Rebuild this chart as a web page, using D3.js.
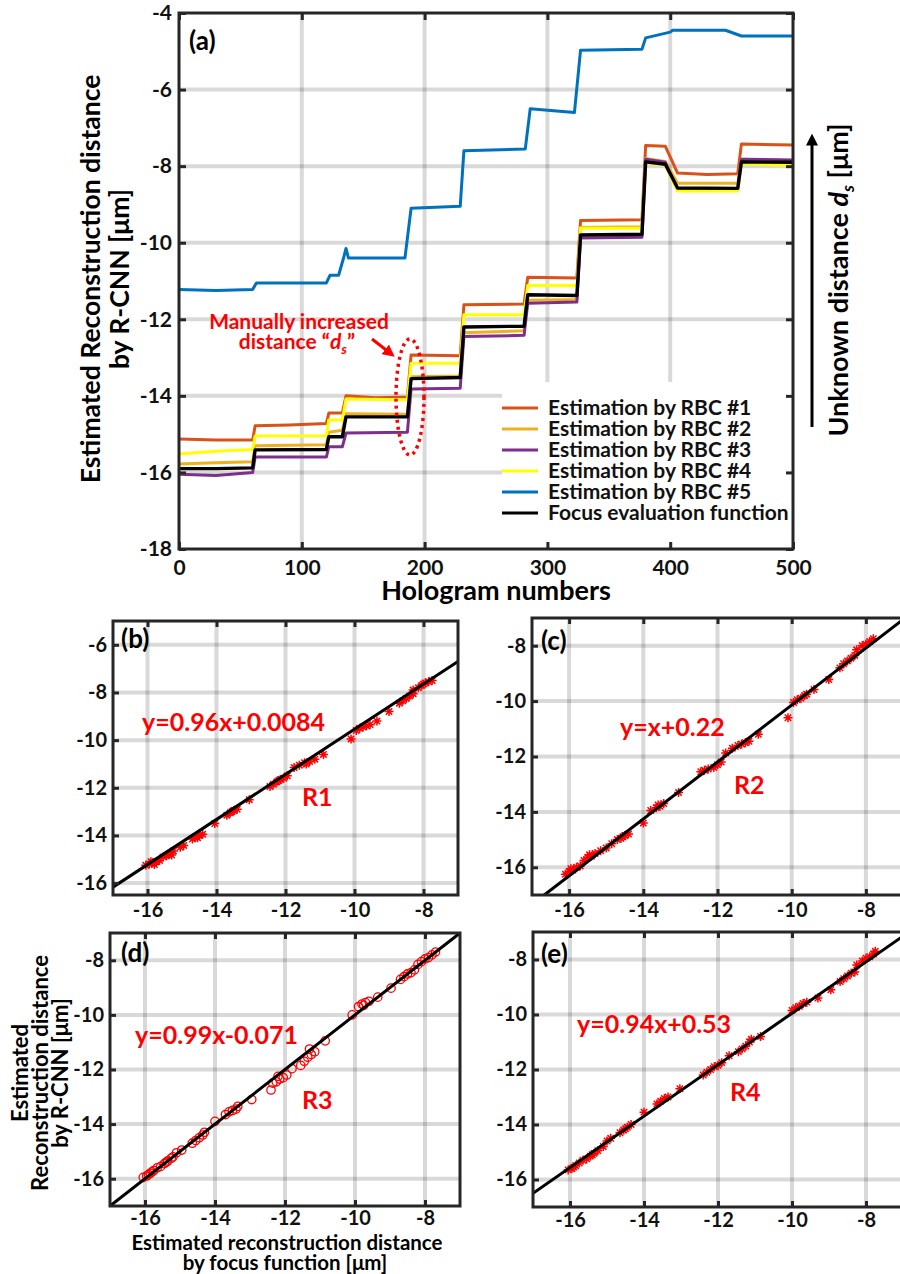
<!DOCTYPE html>
<html>
<head>
<meta charset="utf-8">
<script src="https://cdn.jsdelivr.net/npm/d3@7"></script>
<style>
body { margin: 0; background: #fff; }
text { font-family: Lato, "Open Sans", sans-serif; font-weight: bold; }
</style>
</head>
<body>
<div id="chart"></div>
<script>
// ---- panel (a) data: [hologram number, estimated distance] ----
var seriesNames = ["Estimation by RBC #1", "Estimation by RBC #2", "Estimation by RBC #3",
                   "Estimation by RBC #4", "Estimation by RBC #5", "Focus evaluation function"]
var seriesColors = ["#D95319", "#EDB120", "#7E2F8E", "#FFFF00", "#0072BD", "#000000"]

var rbc1 = [[0,-15.13],[30,-15.15],[60,-15.15],[62,-14.78],[90,-14.76],[120,-14.72],[122,-14.45],[133,-14.45],
            [136,-14.0],[160,-14.05],[186,-14.03],[189,-12.93],[229,-12.95],[232,-11.62],[281,-11.6],
            [284,-10.9],[324,-10.92],[327,-9.42],[377,-9.4],[380,-7.46],[396,-7.48],[406,-8.18],
            [430,-8.22],[455,-8.2],[458,-7.42],[500,-7.45]]
var rbc2 = [[0,-15.78],[30,-15.75],[60,-15.72],[62,-15.3],[120,-15.28],[122,-14.95],[133,-14.9],
            [136,-14.47],[186,-14.48],[189,-13.5],[229,-13.48],[232,-12.35],[281,-12.3],[284,-11.5],
            [324,-11.48],[327,-9.6],[377,-9.58],[380,-7.8],[396,-7.88],[406,-8.45],[455,-8.45],
            [458,-7.82],[500,-7.85]]
var rbc3 = [[0,-16.05],[30,-16.08],[60,-16.0],[62,-15.6],[120,-15.6],[122,-15.33],[133,-15.33],
            [136,-14.97],[186,-14.95],[189,-13.82],[229,-13.8],[232,-12.45],[281,-12.42],[284,-11.58],
            [324,-11.55],[327,-9.88],[377,-9.86],[380,-7.82],[396,-7.9],[406,-8.62],[455,-8.63],
            [458,-7.82],[500,-7.84]]
var rbc4 = [[0,-15.52],[30,-15.45],[60,-15.4],[62,-15.05],[120,-15.04],[122,-14.63],[133,-14.63],
            [136,-14.08],[186,-14.1],[189,-13.15],[229,-13.15],[232,-11.88],[281,-11.88],[284,-11.12],
            [324,-11.12],[327,-9.62],[377,-9.62],[380,-7.92],[396,-7.98],[406,-8.65],[455,-8.65],
            [458,-7.94],[500,-7.98]]
var rbc5 = [[0,-11.22],[30,-11.25],[60,-11.22],[63,-11.05],[120,-11.05],[123,-10.85],[130,-10.85],
            [134,-10.4],[136,-10.15],[138,-10.4],[184,-10.4],[189,-9.1],[229,-9.05],[232,-7.6],
            [282,-7.55],[286,-6.5],[322,-6.6],[327,-4.97],[377,-4.95],[380,-4.65],[400,-4.5],
            [402,-4.45],[445,-4.45],[458,-4.6],[500,-4.6]]
var focus = [[0,-15.9],[30,-15.9],[60,-15.88],[62,-15.41],[120,-15.4],[122,-15.07],[133,-15.07],
             [136,-14.55],[186,-14.55],[189,-13.55],[229,-13.52],[232,-12.2],[281,-12.18],[284,-11.36],
             [324,-11.38],[327,-9.8],[377,-9.78],[380,-7.89],[396,-7.95],[406,-8.57],[455,-8.58],
             [458,-7.89],[500,-7.9]]

var xTicksA = [0, 100, 200, 300, 400, 500]
var yTicksA = [-18, -16, -14, -12, -10, -8, -6, -4]

// ---- scatter panels data: [focus function, R-CNN] ----
var scatB = [[-16.05,-15.25],[-15.95,-15.2],[-15.85,-15.15],[-15.75,-15.1],[-15.65,-15.05],[-15.9,-15.1],[-15.8,-15.22],
  [-15.55,-14.9],[-15.45,-14.85],[-15.35,-14.75],[-15.25,-14.65],[-15.4,-14.8],[-15.3,-14.82],
  [-15.05,-14.5],[-14.95,-14.42],
  [-14.7,-14.15],[-14.6,-14.05],[-14.5,-14.0],[-14.4,-13.95],[-14.55,-14.1],
  [-14.05,-13.5],
  [-13.7,-13.15],[-13.6,-13.05],[-13.5,-12.95],[-13.4,-12.9],[-13.55,-13.0],
  [-13.05,-12.5],
  [-12.45,-11.95],[-12.35,-11.85],[-12.25,-11.75],[-12.15,-11.65],[-12.05,-11.6],[-11.95,-11.5],[-12.2,-11.7],
  [-11.75,-11.15],[-11.6,-11.05],[-11.45,-10.95],[-11.3,-10.9],[-11.15,-10.8],[-11.4,-11.0],
  [-10.9,-10.6],[-10.1,-9.95],
  [-9.95,-9.6],[-9.85,-9.5],[-9.75,-9.45],[-9.65,-9.4],[-9.55,-9.35],
  [-9.35,-9.2],[-9.0,-8.8],
  [-8.7,-8.45],[-8.6,-8.35],[-8.5,-8.25],[-8.4,-8.15],[-8.3,-8.05],
  [-8.3,-7.9],[-8.15,-7.8],[-8.05,-7.7],[-7.95,-7.6],[-7.85,-7.55],[-7.75,-7.5],[-8.0,-7.65]]
var scatC = [[-16.1,-16.25],[-16.0,-16.15],[-15.9,-16.1],[-15.8,-16.0],[-15.7,-15.95],[-15.95,-16.05],
  [-15.6,-15.75],[-15.5,-15.65],[-15.4,-15.6],[-15.3,-15.5],[-15.45,-15.55],
  [-15.15,-15.4],[-15.0,-15.3],
  [-14.85,-15.15],[-14.7,-15.0],[-14.6,-14.95],[-14.5,-14.85],[-14.4,-14.8],[-14.55,-14.9],
  [-14.0,-14.4],
  [-13.8,-13.95],[-13.65,-13.85],[-13.55,-13.8],[-13.45,-13.7],[-13.6,-13.75],
  [-13.05,-13.3],
  [-12.45,-12.55],[-12.35,-12.5],[-12.25,-12.45],[-12.1,-12.4],[-12.0,-12.3],[-11.9,-12.2],
  [-11.78,-11.87],
  [-11.6,-11.7],[-11.45,-11.6],[-11.35,-11.55],[-11.25,-11.5],[-11.15,-11.45],
  [-10.9,-11.2],[-10.1,-10.6],
  [-9.95,-10.05],[-9.85,-9.95],[-9.75,-9.9],[-9.65,-9.8],[-9.6,-9.75],
  [-9.4,-9.58],[-9.0,-9.22],
  [-8.7,-8.8],[-8.6,-8.65],[-8.5,-8.55],[-8.4,-8.45],[-8.3,-8.35],
  [-8.25,-8.15],[-8.1,-8.0],[-8.0,-7.95],[-7.9,-7.85],[-7.8,-7.75]]
var scatD = [[-16.05,-15.95],[-15.95,-15.9],[-15.85,-15.8],[-15.75,-15.7],[-15.65,-15.6],[-15.9,-15.85],[-15.8,-15.75],
  [-15.55,-15.55],[-15.45,-15.45],[-15.35,-15.35],[-15.25,-15.25],[-15.2,-15.2],[-15.4,-15.4],
  [-15.1,-15.05],[-14.95,-14.95],
  [-14.65,-14.7],[-14.55,-14.6],[-14.45,-14.5],[-14.35,-14.4],[-14.3,-14.3],
  [-14.0,-13.9],
  [-13.7,-13.65],[-13.6,-13.55],[-13.5,-13.5],[-13.4,-13.45],[-13.35,-13.35],
  [-12.95,-13.1],
  [-12.4,-12.75],[-12.35,-12.5],[-12.25,-12.45],[-12.15,-12.35],[-12.05,-12.3],[-11.95,-12.2],[-11.8,-11.97],[-12.2,-12.25],
  [-11.55,-11.85],[-11.45,-11.7],[-11.35,-11.55],[-11.25,-11.45],[-11.15,-11.35],[-11.3,-11.25],
  [-10.85,-10.95],[-10.08,-10.0],
  [-9.9,-9.7],[-9.8,-9.6],[-9.7,-9.55],[-9.6,-9.5],[-9.75,-9.65],
  [-9.35,-9.35],[-8.97,-9.02],
  [-8.7,-8.7],[-8.6,-8.6],[-8.5,-8.5],[-8.4,-8.45],[-8.3,-8.35],
  [-8.2,-8.15],[-8.1,-8.05],[-8.0,-7.95],[-7.9,-7.9],[-7.8,-7.8],[-7.7,-7.7]]
var scatE = [[-16.05,-15.65],[-15.95,-15.6],[-15.85,-15.5],[-15.75,-15.4],[-15.65,-15.3],[-15.9,-15.55],
  [-15.55,-15.25],[-15.45,-15.15],[-15.35,-15.05],[-15.25,-14.95],[-15.4,-15.1],
  [-15.1,-14.8],[-15.0,-14.6],[-14.9,-14.5],
  [-14.65,-14.3],[-14.55,-14.2],[-14.45,-14.1],[-14.35,-14.0],[-14.5,-14.15],
  [-14.0,-13.55],
  [-13.65,-13.25],[-13.55,-13.15],[-13.45,-13.05],[-13.35,-13.0],
  [-13.03,-12.7],
  [-12.4,-12.2],[-12.3,-12.1],[-12.2,-12.0],[-12.1,-11.9],[-12.0,-11.85],[-11.9,-11.75],
  [-11.7,-11.5],
  [-11.45,-11.35],[-11.35,-11.25],[-11.25,-11.15],[-11.15,-11.0],[-11.1,-10.9],
  [-10.85,-10.8],
  [-10.0,-9.85],[-9.9,-9.75],[-9.8,-9.7],[-9.7,-9.6],[-9.6,-9.55],
  [-9.3,-9.4],[-8.95,-9.1],
  [-8.7,-8.8],[-8.6,-8.7],[-8.5,-8.6],[-8.4,-8.5],[-8.3,-8.45],
  [-8.25,-8.2],[-8.1,-8.05],[-8.0,-7.95],[-7.9,-7.9],[-7.8,-7.8],[-7.75,-7.7]]

// fitted lines, two ends
var fitB = [[-17,-16.17],[-7,-6.70]]
var fitC = [[-16.67,-17],[-7,-7.06]]
var fitD = [[-17,-17],[-7,-7.0]]
var fitE = [[-17,-16.5],[-7,-7.15]]

var eqLabels = ["y=0.96x+0.0084", "y=x+0.22", "y=0.99x-0.071", "y=0.94x+0.53"]
var rLabels = ["R1", "R2", "R3", "R4"]
var scatTicks = [-16, -14, -12, -10, -8]
var scatYTicksB = [-16, -14, -12, -10, -8, -6]

var svg = d3.select("#chart").append("svg").attr("width", 900).attr("height", 1274)
var defs = svg.append("defs")
var frameColor = "#262626"
var gridColor = "rgba(0,0,0,0.15)"
var plain = function(d) { return String(d) }   // keep ASCII hyphen like the figure

drawTop()

var panels = [
    {name: "(b)", box: [113, 621, 458, 895], yd: [-16.5, -5], yt: scatYTicksB, pts: scatB, fit: fitB, mark: "star",
     eq: [142, 731], r: [302, 806], lab: [121, 648], pad: 8},
    {name: "(c)", box: [532, 618, 903, 895], yd: [-17, -7], yt: scatTicks, pts: scatC, fit: fitC, mark: "star",
     eq: [620, 736], r: [734, 794], lab: [541, 650], pad: 8},
    {name: "(d)", box: [110, 933, 460, 1206], yd: [-17, -7], yt: scatTicks, pts: scatD, fit: fitD, mark: "circle",
     eq: [135, 1044], r: [302, 1109], lab: [121, 962], pad: 5},
    {name: "(e)", box: [533, 932, 903, 1207], yd: [-17, -7], yt: scatTicks, pts: scatE, fit: fitE, mark: "star",
     eq: [577, 1033], r: [730, 1101], lab: [541, 963], pad: 6}
]
panels.forEach(function(p, i) {
    drawScatter(p, i)
})

// axis titles for the lower panels (shown only on (d))
svg.append("text").attr("text-anchor", "middle").style("font-size", "20.5px")
    .attr("x", 287).attr("y", 1250).text("Estimated reconstruction distance")
svg.append("text").attr("text-anchor", "middle").style("font-size", "20.5px")
    .attr("x", 285).attr("y", 1270).text("by focus function [\u03bcm]")
var ylab = ["Estimated", "Reconstruction distance", "by R-CNN [\u03bcm]"]
ylab.forEach(function(t, i) {
    svg.append("text").attr("text-anchor", "middle").style("font-size", "22px")
        .attr("transform", "translate(" + (28 + i * 20) + ",1073) rotate(-90)").text(t)
})

function styleAxis(g, size) {
    g.select(".domain").remove()
    g.selectAll(".tick line").attr("stroke", frameColor).attr("stroke-width", 3)
    g.selectAll(".tick text").style("font-size", size + "px").attr("fill", "#111")
}

function drawTop() {
    var L = 179, T = 13, R = 793, B = 549
    var x = d3.scaleLinear().domain([0, 500]).range([L, R])
    var y = d3.scaleLinear().domain([-18, -4]).range([B, T])
    var g = svg.append("g")

    // grid
    g.selectAll(".gx").data(xTicksA.slice(1, -1)).enter().append("line")
        .attr("x1", function(d) { return x(d) }).attr("x2", function(d) { return x(d) })
        .attr("y1", T).attr("y2", B).attr("stroke", gridColor).attr("stroke-width", 4)
    g.selectAll(".gy").data(yTicksA.slice(1, -1)).enter().append("line")
        .attr("y1", function(d) { return y(d) }).attr("y2", function(d) { return y(d) })
        .attr("x1", L).attr("x2", R).attr("stroke", gridColor).attr("stroke-width", 4)

    var line = d3.line().x(function(d) { return x(d[0]) }).y(function(d) { return y(d[1]) })
    var all = [rbc1, rbc2, rbc3, rbc4, rbc5, focus]
    all.forEach(function(s, i) {
        g.append("path").datum(s).attr("d", line).attr("fill", "none")
            .attr("stroke", seriesColors[i]).attr("stroke-width", i == 5 ? 3.4 : 3)
            .attr("stroke-linejoin", "round")
    })

    // legend (white box hides the grid)
    g.append("rect").attr("x", 502).attr("y", 382).attr("width", 290).attr("height", 165).attr("fill", "#fff")
    var legend = g.selectAll(".legend").data(seriesNames).enter().append("g")
        .attr("transform", function(d, i) { return "translate(502," + (408 + i * 21) + ")" })
    legend.append("line").attr("x1", 0).attr("x2", 36).attr("y1", 0).attr("y2", 0)
        .attr("stroke", function(d, i) { return seriesColors[i] }).attr("stroke-width", 3)
    legend.append("text").attr("x", 46).attr("dy", "0.35em").style("font-size", "21px").attr("fill", "#111")
        .text(function(d) { return d })

    // frame + ticks
    g.append("rect").attr("x", L).attr("y", T).attr("width", R - L).attr("height", B - T)
        .attr("fill", "none").attr("stroke", frameColor).attr("stroke-width", 3)
    var ax = g.append("g").attr("transform", "translate(0," + B + ")")
        .call(d3.axisBottom(x).tickValues(xTicksA).tickSize(-7).tickPadding(11).tickFormat(plain))
    styleAxis(ax, 21)
    var at = g.append("g").attr("transform", "translate(0," + T + ")")
        .call(d3.axisTop(x).tickValues(xTicksA).tickSize(-7).tickFormat(""))
    styleAxis(at, 21)
    var ay = g.append("g").attr("transform", "translate(" + L + ",0)")
        .call(d3.axisLeft(y).tickValues(yTicksA).tickSize(-7).tickPadding(7).tickFormat(plain))
    styleAxis(ay, 21)
    var ar = g.append("g").attr("transform", "translate(" + R + ",0)")
        .call(d3.axisRight(y).tickValues(yTicksA).tickSize(-7).tickFormat(""))
    styleAxis(ar, 21)

    g.append("text").attr("x", 189).attr("y", 50).style("font-size", "26px").text("(a)")

    // axis titles
    g.append("text").attr("text-anchor", "middle").style("font-size", "27px")
        .attr("x", 496).attr("y", 600).text("Hologram numbers")
    g.append("text").attr("text-anchor", "middle").style("font-size", "26.5px")
        .attr("transform", "translate(100,279) rotate(-90)").text("Estimated Reconstruction distance")
    g.append("text").attr("text-anchor", "middle").style("font-size", "26.5px")
        .attr("transform", "translate(129,279) rotate(-90)").text("by R-CNN [\u03bcm]")

    // unknown distance arrow on the right
    defs.append("marker").attr("id", "ahk").attr("viewBox", "0 0 10 10")
        .attr("refX", 3).attr("refY", 5).attr("markerWidth", 4).attr("markerHeight", 4).attr("orient", "auto")
        .append("path").attr("d", "M0,0L10,5L0,10z").attr("fill", "#000")
    g.append("line").attr("x1", 812).attr("x2", 812).attr("y1", 427).attr("y2", 142)
        .attr("stroke", "#000").attr("stroke-width", 3).attr("marker-end", "url(#ahk)")
    var ut = g.append("text").attr("text-anchor", "middle").style("font-size", "27px")
        .attr("transform", "translate(848,280) rotate(-90)")
    ut.append("tspan").text("Unknown distance ")
    ut.append("tspan").style("font-style", "italic").text("d")
    ut.append("tspan").style("font-style", "italic").style("font-size", "17px").attr("dy", 6).text("s")
    ut.append("tspan").attr("dy", -6).text(" [\u03bcm]")

    // annotation
    var red = "#FF0000"
    g.append("text").attr("text-anchor", "middle").style("font-size", "21px").attr("fill", red)
        .attr("x", 299).attr("y", 329).text("Manually increased")
    var t2 = g.append("text").attr("text-anchor", "middle").style("font-size", "21px").attr("fill", red)
        .attr("x", 297).attr("y", 349)
    t2.append("tspan").text("distance \u201c")
    t2.append("tspan").style("font-style", "italic").text("d")
    t2.append("tspan").style("font-style", "italic").style("font-size", "14px").attr("dy", 5).text("s")
    t2.append("tspan").attr("dy", -5).text("\u201d")
    defs.append("marker").attr("id", "ahr").attr("viewBox", "0 0 10 10")
        .attr("refX", 5).attr("refY", 5).attr("markerWidth", 4).attr("markerHeight", 4).attr("orient", "auto")
        .append("path").attr("d", "M0,0L10,5L0,10z").attr("fill", red)
    g.append("line").attr("x1", 372).attr("y1", 339).attr("x2", 390).attr("y2", 353)
        .attr("stroke", red).attr("stroke-width", 3).attr("marker-end", "url(#ahr)")
    g.append("ellipse").attr("cx", 410).attr("cy", 397).attr("rx", 14).attr("ry", 58)
        .attr("fill", "none").attr("stroke", red).attr("stroke-width", 3.5)
        .attr("stroke-dasharray", "3,4")
}

function drawScatter(p, idx) {
    var L = p.box[0], T = p.box[1], R = p.box[2], B = p.box[3]
    var x = d3.scaleLinear().domain([-17, -7]).range([L, R])
    var y = d3.scaleLinear().domain(p.yd).range([B, T])
    var g = svg.append("g")
    var cid = "clip" + idx
    defs.append("clipPath").attr("id", cid).append("rect").attr("x", L).attr("y", T).attr("width", R - L).attr("height", B - T)

    g.selectAll(".gx").data(scatTicks).enter().append("line")
        .attr("x1", function(d) { return x(d) }).attr("x2", function(d) { return x(d) })
        .attr("y1", T).attr("y2", B).attr("stroke", gridColor).attr("stroke-width", 4)
    g.selectAll(".gy").data(p.yt).enter().append("line")
        .attr("y1", function(d) { return y(d) }).attr("y2", function(d) { return y(d) })
        .attr("x1", L).attr("x2", R).attr("stroke", gridColor).attr("stroke-width", 4)

    var pg = g.append("g").attr("clip-path", "url(#" + cid + ")")
    var star = "M-4.5,0H4.5M0,-4.5V4.5M-3.2,-3.2L3.2,3.2M-3.2,3.2L3.2,-3.2"
    if (p.mark == "circle") {
        pg.selectAll("circle").data(p.pts).enter().append("circle")
            .attr("cx", function(d) { return x(d[0]) }).attr("cy", function(d) { return y(d[1]) })
            .attr("r", 4.2).attr("fill", "none").attr("stroke", "#FF0000").attr("stroke-width", 1.3)
    } else {
        pg.selectAll("path.pt").data(p.pts).enter().append("path").attr("class", "pt")
            .attr("transform", function(d) { return "translate(" + x(d[0]) + "," + y(d[1]) + ")" })
            .attr("d", star).attr("stroke", "#FF0000").attr("stroke-width", 1.5)
    }
    pg.append("line").attr("x1", x(p.fit[0][0])).attr("y1", y(p.fit[0][1]))
        .attr("x2", x(p.fit[1][0])).attr("y2", y(p.fit[1][1]))
        .attr("stroke", "#000").attr("stroke-width", 3)

    g.append("rect").attr("x", L).attr("y", T).attr("width", R - L).attr("height", B - T)
        .attr("fill", "none").attr("stroke", frameColor).attr("stroke-width", 3)
    var ax = g.append("g").attr("transform", "translate(0," + B + ")")
        .call(d3.axisBottom(x).tickValues(scatTicks).tickSize(-6).tickPadding(p.pad).tickFormat(plain))
    styleAxis(ax, 20)
    var at = g.append("g").attr("transform", "translate(0," + T + ")")
        .call(d3.axisTop(x).tickValues(scatTicks).tickSize(-6).tickFormat(""))
    styleAxis(at, 20)
    var ay = g.append("g").attr("transform", "translate(" + L + ",0)")
        .call(d3.axisLeft(y).tickValues(p.yt).tickSize(-6).tickPadding(6).tickFormat(plain))
    styleAxis(ay, 20)

    g.append("text").attr("x", p.lab[0]).attr("y", p.lab[1]).style("font-size", "26px").text(p.name)
    g.append("text").attr("x", p.eq[0]).attr("y", p.eq[1]).style("font-size", "25px").attr("fill", "#FF0000")
        .text(eqLabels[idx])
    g.append("text").attr("x", p.r[0]).attr("y", p.r[1]).style("font-size", "25px").attr("fill", "#FF0000")
        .text(rLabels[idx])
}
</script>
</body>
</html>
